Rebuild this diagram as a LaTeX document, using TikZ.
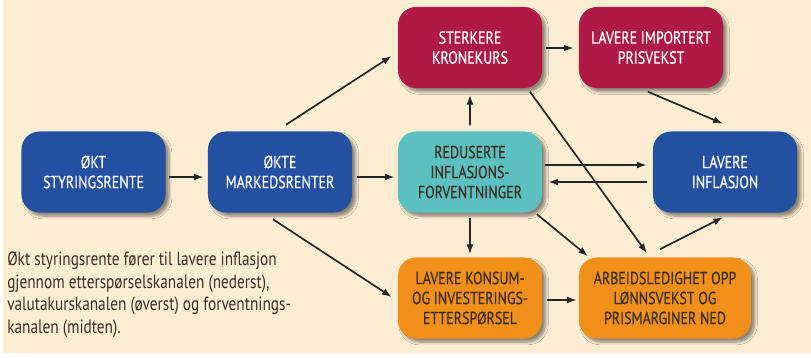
\documentclass[tikz,border=0pt]{standalone}
\usepackage{fontspec}
\setmainfont{PT Sans}[FakeStretch=0.8]
\newfontfamily\boksfont{PT Sans}[FakeStretch=0.8, FakeBold=0.6]
\usepackage{tikz}
\usetikzlibrary{calc}
\usetikzlibrary{arrows.meta}
\usetikzlibrary{shadows.blur}
\usepackage{xcolor}

\definecolor{bakgrunn}{RGB}{253,237,211}
\definecolor{blaa}{RGB}{36,80,161}
\definecolor{vinrod}{RGB}{174,26,69}
\definecolor{turkis}{RGB}{93,192,192}
\definecolor{oransje}{RGB}{240,144,26}
\definecolor{morktekst}{RGB}{58,46,37}

\tikzset{
  boks/.style={rectangle, rounded corners=0.45cm, minimum width=3.6cm, minimum height=2.025cm,
    align=center, font=\boksfont\fontsize{12.4}{14.2}\selectfont,
    blur shadow={shadow xshift=2.5pt, shadow yshift=-2.5pt, shadow blur steps=6, shadow opacity=45}},
  blaaboks/.style={boks, fill=blaa, text=white},
  rodboks/.style={boks, fill=vinrod, text=white},
  turkisboks/.style={boks, fill=turkis, text=morktekst},
  oransjeboks/.style={boks, fill=oransje, text=morktekst},
  pil/.style={-{Latex[length=7pt,width=5pt]}, line width=1.2pt, black!85}
}

\begin{document}
\begin{tikzpicture}[x=0.025cm,y=-0.025cm]
 \useasboundingbox[fill=white] (0,0) rectangle (811,357);
 \fill[bakgrunn] (3,0) rectangle (811,353);

 % boksene
 \node[blaaboks] (rente) at (93.5,172) {ØKT\\STYRINGSRENTE};
 \node[blaaboks] (okte) at (280,172) {ØKTE\\MARKEDSRENTER};
 \node[turkisboks] (forv) at (470,172) {REDUSERTE\\INFLASJONS-\\FORVENTNINGER};
 \node[blaaboks] (infl) at (725,172) {LAVERE\\INFLASJON};
 \node[rodboks] (kurs) at (470,47.5) {STERKERE\\KRONEKURS};
 \node[rodboks] (import) at (651,47.5) {LAVERE IMPORTERT\\PRISVEKST};
 \node[oransjeboks] (konsum) at (470,298) {LAVERE KONSUM-\\OG INVESTERINGS-\\ETTERSPØRSEL};
 \node[oransjeboks, minimum width=4.3cm] (ledig) at (665,298) {ARBEIDSLEDIGHET OPP\\LØNNSVEKST OG\\PRISMARGINER NED};

 % piler
 \draw[pil] ($(rente.east)+(3,5)$) -- ($(okte.west)+(-4,5)$);
 \draw[pil] ($(okte.east)+(5,5)$) -- ($(forv.west)+(-3,5)$);
 \draw[pil] ($(okte.north)+(6,-6.5)$) -- ($(kurs.west)+(-6,8.5)$);
 \draw[pil] ($(okte.south)+(-7,6.5)$) -- ($(konsum.west)+(-6,-1)$);
 \draw[pil] ($(kurs.east)+(4,0.5)$) -- ($(import.west)+(-5,0.5)$);
 \draw[pil] ($(import.south)+(-3,3.5)$) -- ($(infl.north)+(-2,-7.5)$);
 \draw[pil] ($(forv.north)+(0,-6.5)$) -- ($(kurs.south)+(0,6.5)$);
 \draw[pil] ($(forv.east)+(3,-7)$) -- ($(infl.west)+(-6,-7)$);
 \draw[pil] ($(infl.west)+(-6,10)$) -- ($(forv.east)+(6,10)$);
 \draw[pil] ($(kurs.south)+(60,3.5)$) -- ($(ledig.north)+(-18,-4)$);
 \draw[pil] ($(forv.south)+(0,5.5)$) -- ($(konsum.north)+(0,-3)$);
 \draw[pil] ($(forv.south)+(67,1.5)$) -- ($(ledig.north)+(-77,-1)$);
 \draw[pil] ($(ledig.north)+(-5,-8)$) -- ($(infl.south)+(-2,4.5)$);
 \draw[pil] ($(konsum.east)+(5,2)$) -- ($(ledig.west)+(-2,2)$);

 % forklaring
 \node[anchor=north west, align=left, text=morktekst, inner sep=0pt,
   font=\fontsize{13.6}{16}\selectfont] (tekst) at (7,252)
   {Økt styringsrente fører til lavere inflasjon\\gjennom etterspørselskanalen (nederst),\\valutakurskanalen (øverst) og forventnings-\\kanalen (midten).};
\end{tikzpicture}
\end{document}
